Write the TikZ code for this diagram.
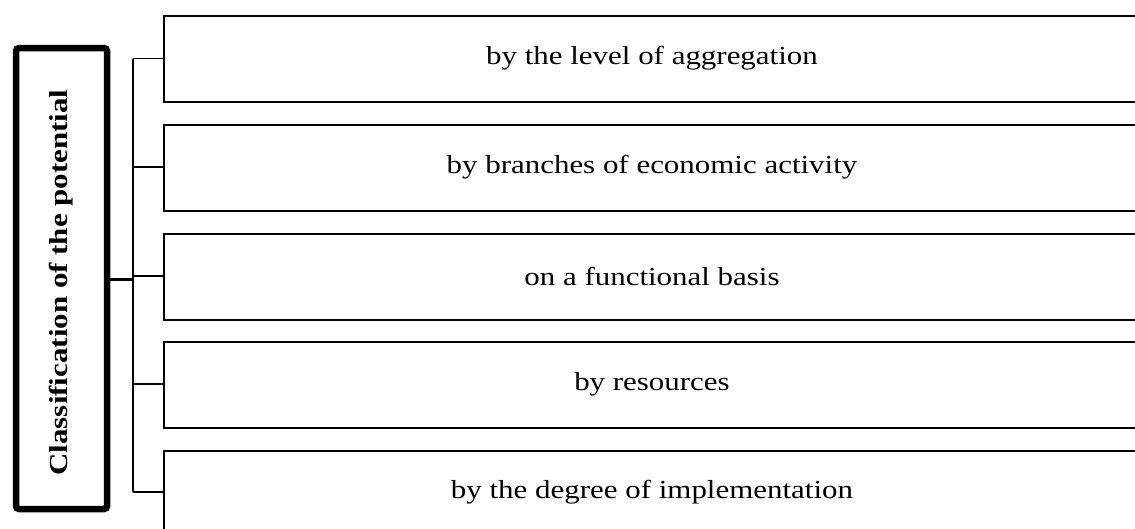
\documentclass[tikz,border=0pt]{standalone}
\usepackage{fontspec}
\setmainfont[FakeStretch=1.19]{Liberation Serif}
\begin{document}
\begin{tikzpicture}[x=1pt,y=-1pt,
  catbox/.style={draw=black,line width=2pt,minimum width=1100pt,minimum height=86pt,anchor=north west,inner sep=0pt},
  cattext/.style={font=\fontsize{26}{30}\selectfont},
  mainbox/.style={draw=black,line width=6.5pt,rounded corners=3pt,minimum width=91pt,minimum height=461pt,inner sep=0pt},
  link/.style={line width=1.5pt}]
\useasboundingbox (0,0) rectangle (1135,528);
\begin{scope}
\clip (0,0) rectangle (1135,528);
\node[catbox] (b1) at (163,15) {};
\node[catbox] (b2) at (163,124) {};
\node[catbox] (b3) at (163,232.5) {};
\node[catbox] (b4) at (163,341) {};
\node[catbox] (b5) at (163,450) {};
\end{scope}
\node[cattext] (t1) at (652,58.5) {by the level of aggregation};
\node[cattext] (t2) at (652,167) {by branches of economic activity};
\node[cattext] (t3) at (652,276) {on a functional basis};
\node[cattext] (t4) at (652,384) {by resources};
\node[cattext] (t5) at (652,492) {by the degree of implementation};
\node[mainbox] (m) at (61.5,278.5) {};
\node[rotate=90,font=\bfseries\fontsize{26}{30}\selectfont] (mt) at (61,282.5) {Classification of the potential};
\coordinate (bt) at (133,58.5);
\coordinate (bb) at (133,492);
\coordinate (bm) at (133,279);
\draw[link] (bt) -- (bb);
\draw[link] (bt) -- (b1.west |- bt);
\draw[link] (133,167) -- (b2.west |- t2);
\draw[link] (133,276) -- (b3.west |- t3);
\draw[link] (133,384) -- (b4.west |- t4);
\draw[link] (bb) -- (b5.west |- bb);
\draw[line width=3pt] (m.east |- bm) -- (bm);
\end{tikzpicture}
\end{document}
